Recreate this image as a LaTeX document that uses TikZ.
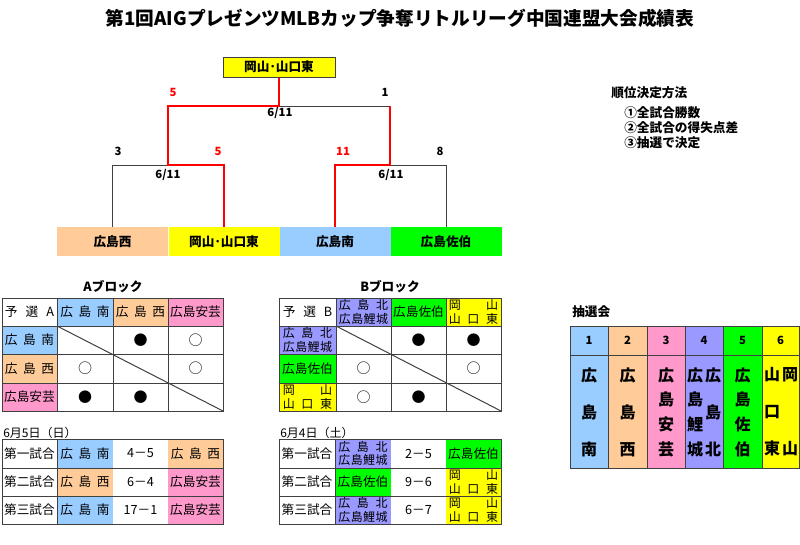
\documentclass[tikz,border=0pt]{standalone}
\usepackage{fontspec}
\setmainfont{Noto Sans CJK JP}
\newfontfamily\jp{Noto Sans CJK JP}
\definecolor{cblue}{HTML}{99CCFF}
\definecolor{corange}{HTML}{FFCC99}
\definecolor{cpink}{HTML}{FF99CC}
\definecolor{cpurple}{HTML}{9999FF}
\definecolor{cgreen}{HTML}{00FF00}
\definecolor{cyellow}{HTML}{FFFF00}
\definecolor{gline}{HTML}{404040}
\definecolor{cred}{HTML}{FF0000}
\newcommand\sprd[1]{\makebox[37pt][s]{#1}}
% x1 y1 x2 y2 fill style name text
\newcommand\tcell[8]{\fill[#5] (#1,#2) rectangle (#3,#4); \node[ctext,#6] (#7) at ({(#1+#3)/2},{(#2+#4)/2}) {#8};}
\tikzset{
  ctext/.style={inner sep=0pt, align=center, font=\jp\fontsize{9.5}{11}\selectfont},
  two/.style={font=\jp\fontsize{9}{10}\selectfont},
  rmark/.style={inner sep=0pt, font=\jp\fontsize{10.5}{12}\selectfont},
  grid/.style={draw=gline, line width=0.75pt},
  teambox/.style={inner sep=0pt, minimum width=83.25pt, minimum height=21.75pt, font=\jp\bfseries\fontsize{9.5}{11}\selectfont},
  champbox/.style={draw=gline, line width=0.75pt, fill=cyellow, inner sep=0pt, minimum width=84pt, minimum height=15pt, font=\jp\bfseries\fontsize{9.5}{11}\selectfont},
  lose/.style={draw=gline, line width=0.75pt},
  win/.style={draw=cred, line width=2.2pt, line join=miter},
  blab/.style={inner sep=0pt, font=\jp\bfseries\fontsize{8.5}{10}\selectfont},
  head/.style={inner sep=0pt, font=\jp\bfseries\fontsize{9.5}{11}\selectfont},
  lot3/.style={inner sep=0pt, align=center, font=\jp\bfseries\fontsize{12}{27.75}\selectfont},
  lot4/.style={inner sep=0pt, align=center, font=\jp\bfseries\fontsize{12}{18.5}\selectfont},
  lot2/.style={inner sep=0pt, align=center, font=\jp\bfseries\fontsize{12}{55.5}\selectfont},
  lotnum/.style={inner sep=0pt, font=\jp\bfseries\fontsize{8.5}{10}\selectfont},
}
\begin{document}
\begin{tikzpicture}[x=0.75pt,y=-0.75pt]
\useasboundingbox (0,0) rectangle (800,544);
% title
\node[inner sep=0pt, font=\jp\bfseries\fontsize{14}{16}\selectfont] (title) at (400,18) {第1回AIGプレゼンツMLBカップ争奪リトルリーグ中国連盟大会成績表};
% bracket
\node[champbox] (champ) at (279,67) {岡山･山口東};
\node[teambox, fill=corange] (t1) at (112.5,241.5) {広島西};
\node[teambox, fill=cyellow] (t2) at (224,241.5) {岡山･山口東};
\node[teambox, fill=cblue] (t3) at (335,241.5) {広島南};
\node[teambox, fill=cgreen] (t4) at (446,241.5) {広島佐伯};
\coordinate (jL) at (168,165);
\coordinate (jLtop) at (168,106);
\coordinate (jR) at (390,165);
\coordinate (jRtop) at (390,106);
\draw[lose] (t1.north) |- (jL);
\draw[lose] (t4.north) |- (jR);
\draw[lose] (jRtop) -- (champ.south |- jRtop);
\draw[win] (t2.north) |- (jL) -- (jLtop) -| (champ.south);
\draw[win] (t3.north) |- (jR) -- (jRtop);
\node[blab, text=cred] (s1) at (173,92) {5};
\node[blab] (s2) at (385,92) {1};
\node[blab] (d1) at (280,113) {6/11};
\node[blab] (s3) at (118,151) {3};
\node[blab, text=cred] (s4) at (218,151) {5};
\node[blab] (d2) at (168,175) {6/11};
\node[blab, text=cred] (s5) at (343,151) {11};
\node[blab] (s6) at (440,151) {8};
\node[blab] (d3) at (391,175) {6/11};
% ranking method
\node[head, anchor=west] (rk) at (611,93) {順位決定方法};
\node[head, anchor=west] (rk1) at (624,113) {①全試合勝数};
\node[head, anchor=west] (rk2) at (624,128) {②全試合の得失点差};
\node[head, anchor=west] (rk3) at (624,143) {③抽選で決定};
% ===== A block
\node[head] (ablk) at (113,287) {Aブロック};
\tcell{2}{298}{57}{326}{white}{}{a00}{\sprd{予\hfill 選\hfill A}}
\tcell{57}{298}{113}{326}{cblue}{}{a01}{\sprd{広\hfill 島\hfill 南}}
\tcell{113}{298}{168}{326}{corange}{}{a02}{\sprd{広\hfill 島\hfill 西}}
\tcell{168}{298}{223}{326}{cpink}{}{a03}{広島安芸}
\tcell{2}{326}{57}{354}{cblue}{}{a10}{\sprd{広\hfill 島\hfill 南}}
\tcell{2}{354}{57}{383}{corange}{}{a20}{\sprd{広\hfill 島\hfill 西}}
\tcell{2}{383}{57}{411}{cpink}{}{a30}{広島安芸}
\draw[grid] (2,298) rectangle (223,411);
\foreach \xx in {57,113,168} \draw[grid] (\xx,298) -- (\xx,411);
\foreach \yy in {326,354,383} \draw[grid] (2,\yy) -- (223,\yy);
\draw[grid] (57,326) -- (223,411);
\node[rmark] (a12) at (140.5,340) {●};
\node[rmark] (a13) at (195.5,340) {○};
\node[rmark] (a21) at (85,368.5) {○};
\node[rmark] (a23) at (195.5,368.5) {○};
\node[rmark] (a31) at (85,397) {●};
\node[rmark] (a32) at (140.5,397) {●};
% ===== B block
\node[head] (bblk) at (390,287) {Bブロック};
\tcell{279}{298}{336}{326}{white}{}{b00}{\sprd{予\hfill 選\hfill B}}
\tcell{336}{298}{391}{326}{cpurple}{two}{b01}{\sprd{広\hfill 島\hfill 北}\\\sprd{広\hfill 島\hfill 鯉\hfill 城}}
\tcell{391}{298}{446}{326}{cgreen}{}{b02}{広島佐伯}
\tcell{446}{298}{501}{326}{cyellow}{two}{b03}{\sprd{岡\hfill 山}\\\sprd{山\hfill 口\hfill 東}}
\tcell{279}{326}{336}{354}{cpurple}{two}{b10}{\sprd{広\hfill 島\hfill 北}\\\sprd{広\hfill 島\hfill 鯉\hfill 城}}
\tcell{279}{354}{336}{383}{cgreen}{}{b20}{広島佐伯}
\tcell{279}{383}{336}{411}{cyellow}{two}{b30}{\sprd{岡\hfill 山}\\\sprd{山\hfill 口\hfill 東}}
\draw[grid] (279,298) rectangle (501,411);
\foreach \xx in {336,391,446} \draw[grid] (\xx,298) -- (\xx,411);
\foreach \yy in {326,354,383} \draw[grid] (279,\yy) -- (501,\yy);
\draw[grid] (336,326) -- (501,411);
\node[rmark] (b12) at (418.5,340) {●};
\node[rmark] (b13) at (473.5,340) {●};
\node[rmark] (b21) at (363.5,368.5) {○};
\node[rmark] (b23) at (473.5,368.5) {○};
\node[rmark] (b31) at (363.5,397) {○};
\node[rmark] (b32) at (418.5,397) {●};
% ===== A results
\node[head, anchor=west, font=\jp\fontsize{9}{11}\selectfont] (dateA) at (3,433) {6月5日（日）};
\tcell{2}{439}{57}{468}{white}{}{ra10}{第一試合}
\tcell{57}{439}{113}{468}{cblue}{}{ra11}{\sprd{広\hfill 島\hfill 南}}
\tcell{113}{439}{168}{468}{white}{}{ra12}{4－5}
\tcell{168}{439}{223}{468}{corange}{}{ra13}{\sprd{広\hfill 島\hfill 西}}
\tcell{2}{468}{57}{496}{white}{}{ra20}{第二試合}
\tcell{57}{468}{113}{496}{corange}{}{ra21}{\sprd{広\hfill 島\hfill 西}}
\tcell{113}{468}{168}{496}{white}{}{ra22}{6－4}
\tcell{168}{468}{223}{496}{cpink}{}{ra23}{広島安芸}
\tcell{2}{496}{57}{524}{white}{}{ra30}{第三試合}
\tcell{57}{496}{113}{524}{cblue}{}{ra31}{\sprd{広\hfill 島\hfill 南}}
\tcell{113}{496}{168}{524}{white}{}{ra32}{17－1}
\tcell{168}{496}{223}{524}{cpink}{}{ra33}{広島安芸}
\draw[grid] (2,439) rectangle (223,524);
\draw[grid] (57,439) -- (57,524);
\foreach \yy in {468,496} \draw[grid] (2,\yy) -- (223,\yy);
% ===== B results
\node[head, anchor=west, font=\jp\fontsize{9}{11}\selectfont] (dateB) at (280,433) {6月4日（土）};
\tcell{279}{439}{335}{468}{white}{}{rb10}{第一試合}
\tcell{335}{439}{391}{468}{cpurple}{two}{rb11}{\sprd{広\hfill 島\hfill 北}\\\sprd{広\hfill 島\hfill 鯉\hfill 城}}
\tcell{391}{439}{446}{468}{white}{}{rb12}{2－5}
\tcell{446}{439}{501}{468}{cgreen}{}{rb13}{広島佐伯}
\tcell{279}{468}{335}{496}{white}{}{rb20}{第二試合}
\tcell{335}{468}{391}{496}{cgreen}{}{rb21}{広島佐伯}
\tcell{391}{468}{446}{496}{white}{}{rb22}{9－6}
\tcell{446}{468}{501}{496}{cyellow}{two}{rb23}{\sprd{岡\hfill 山}\\\sprd{山\hfill 口\hfill 東}}
\tcell{279}{496}{335}{524}{white}{}{rb30}{第三試合}
\tcell{335}{496}{391}{524}{cpurple}{two}{rb31}{\sprd{広\hfill 島\hfill 北}\\\sprd{広\hfill 島\hfill 鯉\hfill 城}}
\tcell{391}{496}{446}{524}{white}{}{rb32}{6－7}
\tcell{446}{496}{501}{524}{cyellow}{two}{rb33}{\sprd{岡\hfill 山}\\\sprd{山\hfill 口\hfill 東}}
\draw[grid] (279,439) rectangle (501,524);
\draw[grid] (335,439) -- (335,524);
\foreach \yy in {468,496} \draw[grid] (279,\yy) -- (501,\yy);
% ===== lottery
\node[head, anchor=west] (lot) at (572,312) {抽選会};
\fill[cblue] (570,326) rectangle (608,468);
\fill[corange] (608,326) rectangle (647,468);
\fill[cpink] (647,326) rectangle (685,468);
\fill[cpurple] (685,326) rectangle (723,468);
\fill[cgreen] (723,326) rectangle (762,468);
\fill[cyellow] (762,326) rectangle (799,468);
\draw[grid] (570,326) rectangle (799,468);
\foreach \xx in {608,647,685,723,762} \draw[grid] (\xx,326) -- (\xx,468);
\draw[grid] (570,355) -- (799,355);
\node[lotnum] (n1) at (589,340.5) {1};
\node[lotnum] (n2) at (627.5,340.5) {2};
\node[lotnum] (n3) at (666,340.5) {3};
\node[lotnum] (n4) at (704,340.5) {4};
\node[lotnum] (n5) at (742.5,340.5) {5};
\node[lotnum] (n6) at (780.5,340.5) {6};
\node[lot3] (l1) at (589,412) {広\\島\\南};
\node[lot3] (l2) at (627.5,412) {広\\島\\西};
\node[lot4] (l3) at (666,412) {広\\島\\安\\芸};
\node[lot4] (l4a) at (695,412) {広\\島\\鯉\\城};
\node[lot3] (l4b) at (713,412) {広\\島\\北};
\node[lot4] (l5) at (742.5,412) {広\\島\\佐\\伯};
\node[lot3] (l6a) at (772,412) {山\\口\\東};
\node[lot2] (l6b) at (790,412) {岡\\山};
\end{tikzpicture}
\end{document}
